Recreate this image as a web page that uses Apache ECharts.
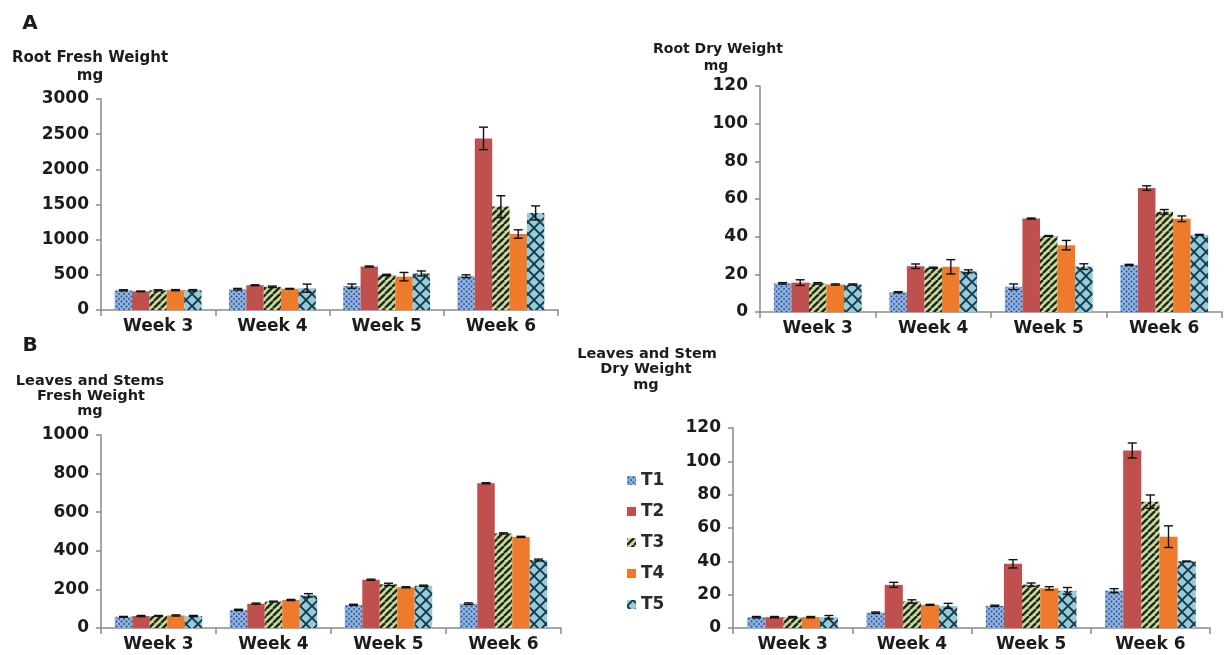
<!DOCTYPE html>
<html>
<head>
<meta charset="utf-8">
<script src="https://cdn.jsdelivr.net/npm/echarts@6/dist/echarts.min.js"></script>
<style>
  html, body { margin: 0; padding: 0; background: #fff; }
  #chart { width: 1228px; height: 655px; }
</style>
</head>
<body>
<div id="chart"></div>
<script>
// ---- data -------------------------------------------------------------
const weeks = ['Week 3', 'Week 4', 'Week 5', 'Week 6'];
const treatments = ['T1', 'T2', 'T3', 'T4', 'T5'];

// Root fresh weight, mg (rows: T1..T5, columns: weeks 3..6)
const rootFreshMean = [
  [280, 295, 340, 480],
  [265, 352, 618, 2440],
  [280, 330, 498, 1470],
  [282, 302, 474, 1080],
  [280, 310, 520, 1380]
];
const rootFreshErr = [
  [8, 12, 30, 20],
  [5, 6, 8, 160],
  [8, 10, 10, 155],
  [8, 5, 60, 60],
  [10, 58, 35, 100]
];

// Root dry weight, mg
const rootDryMean = [
  [15.2, 10.5, 13.4, 25.0],
  [15.6, 24.3, 49.6, 65.8],
  [15.2, 23.5, 40.4, 53.2],
  [14.6, 24.0, 35.5, 49.5],
  [14.6, 21.6, 24.1, 41.0]
];
const rootDryErr = [
  [0.4, 0.3, 1.5, 0.3],
  [1.5, 1.2, 0.3, 1.2],
  [0.4, 0.3, 0.2, 1.2],
  [0.3, 3.8, 2.5, 1.5],
  [0.3, 0.8, 1.5, 0.2]
];

// Leaves and stems fresh weight, mg
const leafFreshMean = [
  [58, 94, 120, 126],
  [62, 126, 250, 750],
  [63, 137, 226, 490],
  [65, 145, 211, 472],
  [62, 169, 219, 352]
];
const leafFreshErr = [
  [2, 3, 3, 4],
  [3, 3, 3, 3],
  [2, 2, 6, 3],
  [3, 3, 3, 3],
  [3, 9, 3, 5]
];

// Leaves and stem dry weight, mg
const leafDryMean = [
  [6.5, 9.2, 13.3, 22.4],
  [6.5, 25.9, 38.5, 106.5],
  [6.5, 15.9, 26.0, 75.8],
  [6.5, 13.9, 23.8, 54.8],
  [6.5, 13.3, 22.3, 40.0]
];
const leafDryErr = [
  [0.4, 0.4, 0.4, 1.2],
  [0.4, 1.5, 2.5, 4.5],
  [0.4, 1.0, 1.0, 4.0],
  [0.4, 0.3, 1.0, 6.5],
  [1.0, 1.5, 2.0, 0.2]
];

// ---- fill patterns for the treatments ---------------------------------
function tile(w, h, draw) {
  const c = document.createElement('canvas');
  c.width = w; c.height = h;
  draw(c.getContext('2d'), w, h);
  return { image: c, repeat: 'repeat' };
}
const fillT1 = tile(5, 5, (g, w, h) => {
  g.fillStyle = '#8eb3e0'; g.fillRect(0, 0, w, h);
  g.fillStyle = '#2c4d8c';
  g.beginPath(); g.arc(1.5, 1.5, 1.0, 0, Math.PI * 2); g.fill();
  g.beginPath(); g.arc(4.0, 4.0, 0.9, 0, Math.PI * 2); g.fill();
});
const fillT2 = '#c0504d';
const fillT3 = tile(7, 7, (g, w, h) => {
  g.fillStyle = '#c9d8a4'; g.fillRect(0, 0, w, h);
  g.strokeStyle = '#1e2a14'; g.lineWidth = 2.4;
  for (let o = -w; o <= w; o += w) {
    g.beginPath(); g.moveTo(o, h); g.lineTo(o + w, 0); g.stroke();
  }
});
const fillT4 = '#ee7a2b';
const fillT5 = tile(12, 12, (g, w, h) => {
  g.fillStyle = '#93cddd'; g.fillRect(0, 0, w, h);
  g.strokeStyle = '#1d3a48'; g.lineWidth = 1.9;
  g.beginPath();
  g.moveTo(0, h / 2); g.lineTo(w / 2, 0); g.lineTo(w, h / 2);
  g.lineTo(w / 2, h); g.closePath(); g.stroke();
});
const fills = [fillT1, fillT2, fillT3, fillT4, fillT5];

// ---- layout of the four panels ----------------------------------------
const FONT = 'DejaVu Sans';
const CAT_GAP = 0.24;
const panels = [
  { mean: rootFreshMean, err: rootFreshErr, max: 3000, step: 500,
    grid: { left: 101, top: 99, width: 457, height: 211 } },
  { mean: rootDryMean, err: rootDryErr, max: 120, step: 20,
    grid: { left: 760, top: 86, width: 462, height: 226 } },
  { mean: leafFreshMean, err: leafFreshErr, max: 1000, step: 200,
    grid: { left: 101, top: 435, width: 460, height: 193 } },
  { mean: leafDryMean, err: leafDryErr, max: 120, step: 20,
    grid: { left: 733, top: 428, width: 477, height: 200 } }
];

const axisLineStyle = { color: '#8a8a8a', width: 1.5 };

const grid = panels.map(p => p.grid);
const xAxis = panels.map((p, k) => ({
  type: 'category', gridIndex: k, data: weeks,
  axisLine: { lineStyle: axisLineStyle },
  axisTick: { show: true, length: 6, lineStyle: axisLineStyle },
  axisLabel: { fontFamily: FONT, fontWeight: 'bold', fontSize: 17, color: '#1c1c1c', margin: 8 }
}));
const yAxis = panels.map((p, k) => ({
  type: 'value', gridIndex: k, min: 0, max: p.max, interval: p.step,
  axisLine: { show: true, lineStyle: axisLineStyle },
  axisTick: { show: true, length: 5, lineStyle: axisLineStyle },
  splitLine: { show: false },
  axisLabel: {
    fontFamily: FONT, fontWeight: 'bold', fontSize: 17, color: '#1c1c1c', margin: 12,
    formatter: v => String(v)
  }
}));

function errorBarItem(params, api) {
  const cat = api.value(0), idx = api.value(1), v = api.value(2), e = api.value(3);
  const base = api.coord([cat, v]);
  const band = api.size([1, 0])[0];
  const used = band * (1 - CAT_GAP);
  const bw = used / treatments.length;
  const x = base[0] - used / 2 + bw * (idx + 0.5);
  const yHi = api.coord([cat, v + e])[1];
  const yLo = api.coord([cat, Math.max(0, v - e)])[1];
  const hw = 4.5;
  const st = { stroke: '#111', lineWidth: 1.4 };
  return {
    type: 'group',
    children: [
      { type: 'line', shape: { x1: x, y1: yHi, x2: x, y2: yLo }, style: st },
      { type: 'line', shape: { x1: x - hw, y1: yHi, x2: x + hw, y2: yHi }, style: st },
      { type: 'line', shape: { x1: x - hw, y1: yLo, x2: x + hw, y2: yLo }, style: st }
    ]
  };
}

const series = [];
panels.forEach((p, k) => {
  treatments.forEach((t, i) => {
    series.push({
      type: 'bar', name: t, xAxisIndex: k, yAxisIndex: k,
      data: p.mean[i],
      barGap: '0%', barCategoryGap: (CAT_GAP * 100) + '%',
      itemStyle: { color: fills[i] },
      silent: true
    });
  });
  const errData = [];
  treatments.forEach((t, i) => {
    weeks.forEach((w, j) => errData.push([j, i, p.mean[i][j], p.err[i][j]]));
  });
  series.push({
    type: 'custom', name: 'err' + k, xAxisIndex: k, yAxisIndex: k,
    renderItem: errorBarItem, data: errData, encode: { x: 0, y: 2 },
    z: 5, silent: true, clip: false
  });
});

function label(text, x, y, size) {
  return {
    type: 'text', x: x, y: y, silent: true,
    style: {
      text: text, fill: '#1c1c1c', align: 'center', verticalAlign: 'middle',
      textAlign: 'center', textVerticalAlign: 'middle',
      font: 'bold ' + size + 'px "' + FONT + '"'
    }
  };
}

const graphic = [
  label('A', 30, 24, 20),
  label('Root Fresh Weight', 90, 58, 15),
  label('mg', 90, 76, 15),
  label('Root Dry Weight', 718, 49, 14),
  label('mg', 716, 66, 14),
  label('B', 30, 346, 20),
  label('Leaves and Stems', 90, 381, 14.5),
  label('Fresh Weight', 91, 396, 14.5),
  label('mg', 90, 411, 14.5),
  label('Leaves and Stem', 647, 354, 14.5),
  label('Dry Weight', 646, 369, 14.5),
  label('mg', 646, 385, 14.5)
];

const chart = echarts.init(document.getElementById('chart'), null, { renderer: 'canvas' });
chart.setOption({
  animation: false,
  backgroundColor: '#ffffff',
  grid: grid,
  xAxis: xAxis,
  yAxis: yAxis,
  legend: {
    data: treatments, orient: 'vertical', left: 622, top: 467,
    icon: 'rect', itemWidth: 9, itemHeight: 9, itemGap: 14,
    textStyle: { fontFamily: FONT, fontWeight: 'bold', fontSize: 17, color: '#2a2a2a', lineHeight: 17 }
  },
  graphic: graphic,
  series: series
});
</script>
</body>
</html>
